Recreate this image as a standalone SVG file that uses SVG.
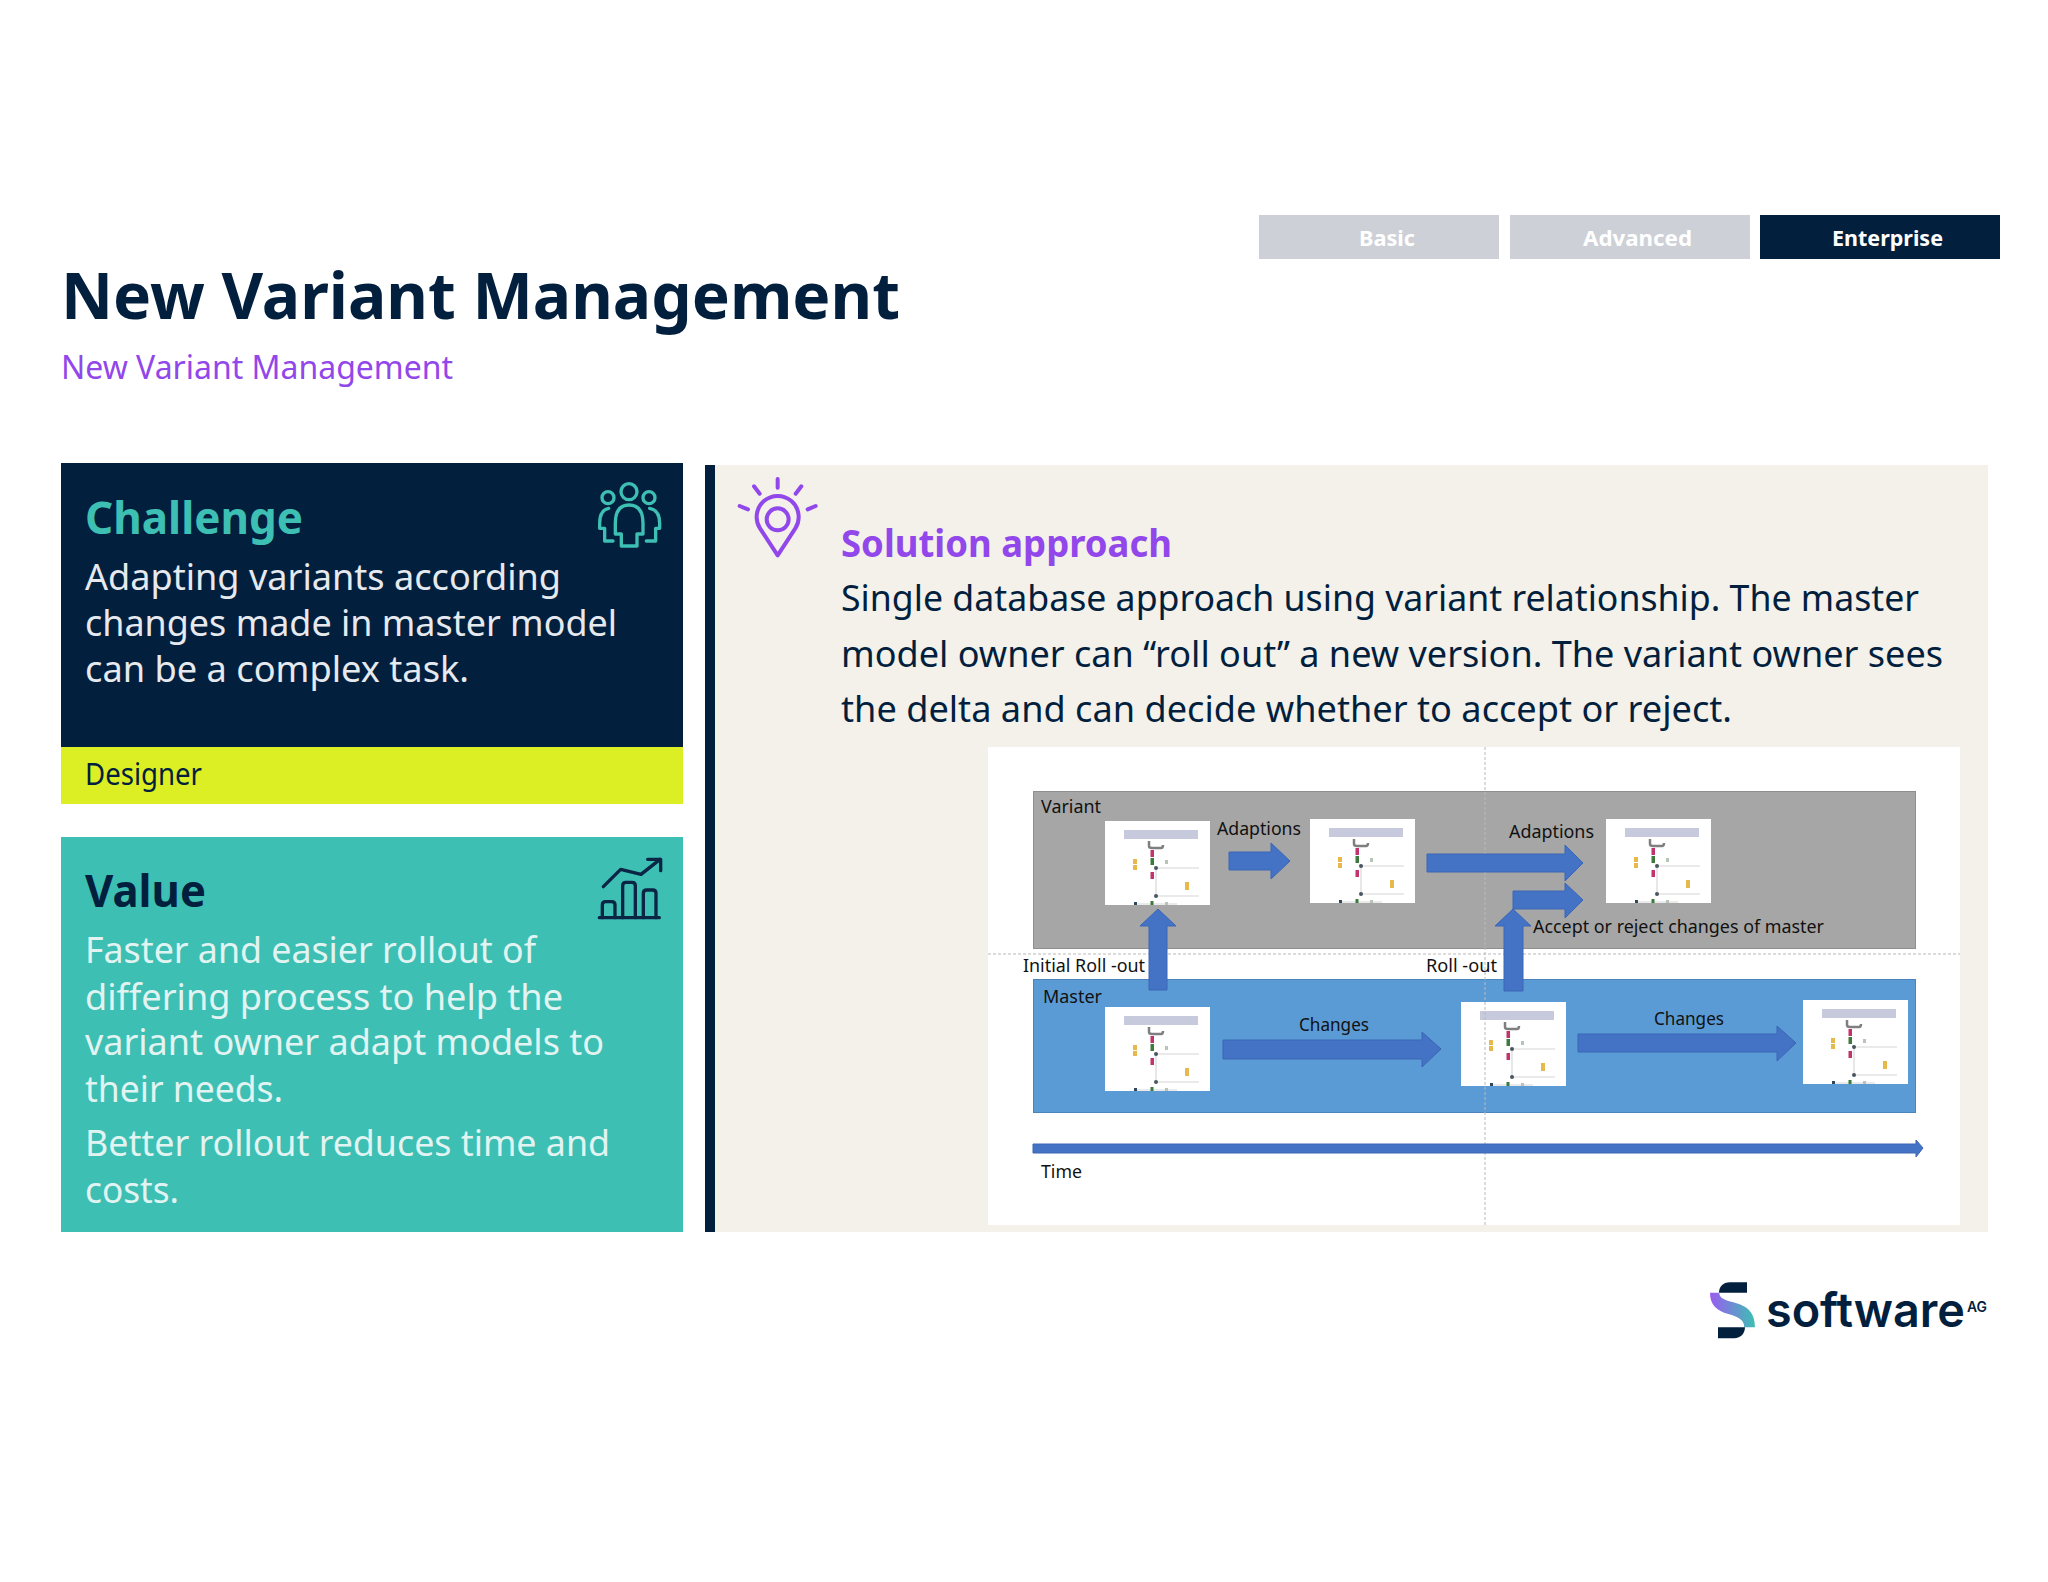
<svg xmlns="http://www.w3.org/2000/svg" width="2048" height="1582" viewBox="0 0 2048 1582">
<style>
text{font-family:"Noto Sans","Open Sans","DejaVu Sans",sans-serif}
.tab{font-size:22px;font-weight:700;fill:#fff}
.h{font-size:44px;font-weight:700}
.b{font-size:36px;fill:#031f3e}
.v{font-size:36px;fill:#e2f4f1}
.c{font-size:36px;fill:#e6eaef}
.s{font-size:37px;fill:#031f3e}
.m{font-size:18px;fill:#111}
.arrow{fill:#4472c4;stroke:#3a66b4;stroke-width:1}
.ln{fill:none;stroke-linecap:round;stroke-linejoin:round}
.dash{fill:none;stroke:#b9b9b9;stroke-width:1;stroke-dasharray:3 2}
</style>
<defs>
<filter id="soft" x="-5%" y="-5%" width="110%" height="110%"><feGaussianBlur stdDeviation="0.5"/></filter>
<symbol id="tile" viewBox="0 0 105 84" width="105" height="84" overflow="visible">
<rect width="105" height="84" fill="#fff"/>
<g filter="url(#soft)">
<rect x="19" y="9" width="74" height="9" fill="#c7c9dc"/>
<path d="M44,20 V25 Q44,27 47,27 H56 Q58,27 58,24" fill="none" stroke="#7f7f7f" stroke-width="2.500"/>
<path d="M51,47 V75" stroke="#cfcfcf" stroke-width="1"/>
<path d="M51,47 H94 M51,75 H94 M31,83 H72" stroke="#d5d5d5" stroke-width="1"/>
<rect x="45.500" y="29" width="3.500" height="7" fill="#c2306c"/>
<rect x="45.500" y="37" width="3.500" height="7" fill="#3c7a3c"/>
<rect x="45.500" y="51" width="3.500" height="7" fill="#c2306c"/>
<rect x="28" y="38" width="4" height="5" fill="#e7b84b"/>
<rect x="28" y="44" width="4" height="5" fill="#e7b84b"/>
<rect x="80" y="61" width="4" height="8" fill="#e7b84b"/>
<rect x="60" y="39" width="3" height="4" fill="#b9c4b8"/>
<circle cx="51" cy="47" r="2" fill="#4a5560"/>
<circle cx="51" cy="75" r="2" fill="#4a5560"/>
<rect x="29" y="81" width="3" height="3" fill="#2f4a5c"/>
<rect x="45.500" y="80" width="3" height="4" fill="#3c7a3c"/>
<rect x="60" y="81" width="3" height="3" fill="#b9c4b8"/>
</g>
</symbol>
<linearGradient id="sw" x1="0" y1="0" x2="1" y2="0"><stop offset="0" stop-color="#9a5cf0"/><stop offset="1" stop-color="#3dbfb4"/></linearGradient>
</defs>
<rect width="2048" height="1582" fill="#fff"/>

<g id="title">
<text x="61" y="319" font-size="64" font-weight="700" fill="#031f3e" textLength="839" lengthAdjust="spacingAndGlyphs">New Variant Management</text>
<text x="61" y="379" font-size="33" fill="#9147ea" textLength="392" lengthAdjust="spacingAndGlyphs">New Variant Management</text>
</g>

<g id="tab-basic"><rect x="1259" y="215" width="240" height="44" fill="#cdd0d6"/><text class="tab" x="1359" y="246" textLength="56" lengthAdjust="spacingAndGlyphs">Basic</text></g>
<g id="tab-advanced"><rect x="1510" y="215" width="240" height="44" fill="#cdd0d6"/><text class="tab" x="1583" y="246" textLength="109" lengthAdjust="spacingAndGlyphs">Advanced</text></g>
<g id="tab-enterprise"><rect x="1760" y="215" width="240" height="44" fill="#031f3e"/><text class="tab" x="1832" y="246" textLength="111" lengthAdjust="spacingAndGlyphs">Enterprise</text></g>

<g id="challenge">
<rect x="61" y="463" width="622" height="284" fill="#031f3e"/>
<text class="h" x="85" y="534" fill="#3dbfb4" textLength="218" lengthAdjust="spacingAndGlyphs">Challenge</text>
<text class="c" x="85" y="590" textLength="476" lengthAdjust="spacingAndGlyphs">Adapting variants according</text>
<text class="c" x="85" y="636" textLength="532" lengthAdjust="spacingAndGlyphs">changes made in master model</text>
<text class="c" x="85" y="682" textLength="384" lengthAdjust="spacingAndGlyphs">can be a complex task.</text>
<g class="ln" transform="translate(558,460) scale(.3333)" stroke="#3dbfb4" stroke-width="10">
<circle cx="213" cy="95" r="24"/><circle cx="150" cy="113" r="18"/><circle cx="273" cy="113" r="18"/>
<path d="M190,258 V222 H172 V190 Q172,135 213,135 Q255,135 255,190 V222 H237 V258 Z"/>
<path d="M152,145 Q125,150 125,190 V205 H140 V243 H165"/>
<path d="M275,145 Q305,150 305,190 V205 H293 V243 H265"/>
</g>
</g>
<g id="designer">
<rect x="61" y="747" width="622" height="57" fill="#dcee24"/>
<text x="85" y="785" font-size="30" fill="#031f3e" textLength="117" lengthAdjust="spacingAndGlyphs">Designer</text>
</g>

<g id="value">
<rect x="61" y="837" width="622" height="395" fill="#3dbfb4"/>
<text class="h" x="85" y="907" fill="#031f3e" textLength="121" lengthAdjust="spacingAndGlyphs">Value</text>
<text class="v" x="85" y="963" textLength="451" lengthAdjust="spacingAndGlyphs">Faster and easier rollout of</text>
<text class="v" x="85" y="1010" textLength="478" lengthAdjust="spacingAndGlyphs">differing process to help the</text>
<text class="v" x="85" y="1055" textLength="519" lengthAdjust="spacingAndGlyphs">variant owner adapt models to</text>
<text class="v" x="85" y="1102" textLength="198" lengthAdjust="spacingAndGlyphs">their needs.</text>
<text class="v" x="85" y="1156" textLength="525" lengthAdjust="spacingAndGlyphs">Better rollout reduces time and</text>
<text class="v" x="85" y="1203" textLength="94" lengthAdjust="spacingAndGlyphs">costs.</text>
<g class="ln" transform="translate(580,840) scale(.3333)" stroke="#0b2545" stroke-width="10">
<path d="M58,233 H238"/>
<path d="M67,233 V195 Q67,185 77,185 H95 Q105,185 105,195 V233"/>
<path d="M128,233 V137 Q128,127 138,127 H156 Q166,127 166,137 V233"/>
<path d="M190,233 V160 Q190,150 200,150 H218 Q228,150 228,160 V233"/>
<path d="M70,140 L122,88 L183,103 L240,58"/>
<path d="M203,58 H242 V92"/>
</g>
</g>

<g id="solution">
<rect x="705" y="465" width="10" height="767" fill="#031f3e"/>
<rect x="715" y="465" width="1273" height="767" fill="#f3f1ea"/>
<g class="ln" transform="translate(720,470) scale(.3333)" stroke="#9147ea" stroke-width="12">
<path d="M173,256 L120,175 A63,63 0 1 1 226,175 Z"/>
<circle cx="173" cy="148" r="33"/>
<path d="M173,27 V53 M102,49 L119,71 M244,49 L227,71 M59,108 L84,118 M287,108 L263,118"/>
</g>
<text x="841" y="557" font-size="38" font-weight="700" fill="#9147ea" textLength="331" lengthAdjust="spacingAndGlyphs">Solution approach</text>
<text class="s" x="841" y="611" textLength="1078" lengthAdjust="spacingAndGlyphs">Single database approach using variant relationship. The master</text>
<text class="s" x="841" y="667" textLength="1102" lengthAdjust="spacingAndGlyphs">model owner can “roll out” a new version. The variant owner sees</text>
<text class="s" x="841" y="722" textLength="891" lengthAdjust="spacingAndGlyphs">the delta and can decide whether to accept or reject.</text>
</g>

<g id="figure-panel"><rect x="988" y="747" width="972" height="478" fill="#fff"/></g>
<g id="lane-variant"><rect x="1033.500" y="791.500" width="882" height="157" fill="#a6a6a6" stroke="#8e8e8e"/><text class="m" x="1041" y="813" textLength="60" lengthAdjust="spacingAndGlyphs">Variant</text></g>
<g id="lane-master"><rect x="1033.500" y="979.500" width="882" height="133" fill="#5b9bd5" stroke="#4a84bb"/><text class="m" x="1043" y="1003" textLength="59" lengthAdjust="spacingAndGlyphs">Master</text></g>

<g id="tile-variant-1"><use href="#tile" x="1105" y="821"/></g>
<g id="tile-variant-2"><use href="#tile" x="1310" y="819"/></g>
<g id="tile-variant-3"><use href="#tile" x="1606" y="819"/></g>
<g id="tile-master-1"><use href="#tile" x="1105" y="1007"/></g>
<g id="tile-master-2"><use href="#tile" x="1461" y="1002"/></g>
<g id="tile-master-3"><use href="#tile" x="1803" y="1000"/></g>

<g id="connectors">
<path class="dash" d="M1485,747 V1225 M988,954 H1960"/>
<polygon class="arrow" points="1229,852 1271,852 1271,843 1290,861 1271,879 1271,870 1229,870"/>
<polygon class="arrow" points="1427,854 1565,854 1565,845 1583,863 1565,881 1565,872 1427,872"/>
<polygon class="arrow" points="1513,891 1565,891 1565,883 1583,900 1565,918 1565,909 1513,909"/>
<polygon class="arrow" points="1149,990 1149,926 1140,926 1158,909 1176,926 1167,926 1167,990"/>
<polygon class="arrow" points="1504,991 1504,926 1495,926 1513,909 1531,926 1523,926 1523,991"/>
<polygon class="arrow" points="1223,1040 1422,1040 1422,1032 1441,1049 1422,1067 1422,1059 1223,1059"/>
<polygon class="arrow" points="1578,1034 1777,1034 1777,1026 1796,1043 1777,1061 1777,1052 1578,1052"/>
<polygon class="arrow" points="1033,1144 1916,1144 1916,1140 1923,1148 1916,1157 1916,1153 1033,1153"/>
</g>

<g id="labels">
<text class="m" x="1217" y="835" textLength="84" lengthAdjust="spacingAndGlyphs">Adaptions</text>
<text class="m" x="1509" y="838" textLength="85" lengthAdjust="spacingAndGlyphs">Adaptions</text>
<text class="m" x="1533" y="933" textLength="291" lengthAdjust="spacingAndGlyphs">Accept or reject changes of master</text>
<text class="m" x="1023" y="972" textLength="122" lengthAdjust="spacingAndGlyphs">Initial Roll -out</text>
<text class="m" x="1426" y="972" textLength="71" lengthAdjust="spacingAndGlyphs">Roll -out</text>
<text class="m" x="1299" y="1031" textLength="70" lengthAdjust="spacingAndGlyphs">Changes</text>
<text class="m" x="1654" y="1025" textLength="70" lengthAdjust="spacingAndGlyphs">Changes</text>
<text class="m" x="1041" y="1178" textLength="41" lengthAdjust="spacingAndGlyphs">Time</text>
</g>

<g id="logo">
<path d="M1747,1282.300 V1292.700 H1719 C1719,1287 1723,1282.300 1730,1282.300 Z" fill="#031f3e"/>
<path d="M1710,1292.700 H1719.300 C1719.300,1298.300 1725,1300 1733.300,1302.300 C1746.700,1305.700 1755,1311.700 1755,1327.300 H1744.300 C1744.300,1320 1738.300,1316.700 1728.300,1314 C1716.700,1310.700 1710,1305 1710,1292.700 Z" fill="url(#sw)"/>
<path d="M1718,1327.300 H1745 C1745,1333 1741,1338.300 1734,1338.300 H1718 Z" fill="#031f3e"/>
<text x="1766" y="1327" font-size="48" font-weight="600" fill="#031f3e" style="font-family:Inter,sans-serif" textLength="199" lengthAdjust="spacingAndGlyphs">software</text>
<text x="1967" y="1312" font-size="14" font-weight="600" fill="#031f3e" style="font-family:Inter,sans-serif" textLength="20" lengthAdjust="spacingAndGlyphs">AG</text>
</g>
</svg>
